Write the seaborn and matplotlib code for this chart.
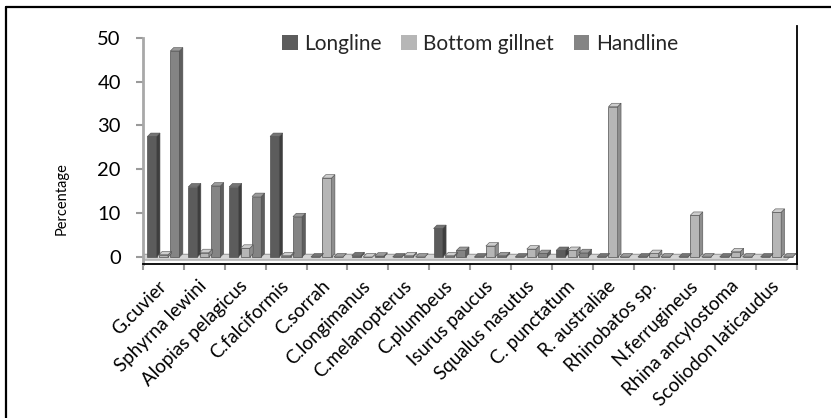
import matplotlib
matplotlib.use("Agg")
import matplotlib.pyplot as plt
from matplotlib.patches import Polygon, Patch
from matplotlib.lines import Line2D
import seaborn as sns
import pandas as pd

species = ["G.cuvier", "Sphyrna lewini", "Alopias pelagicus", "C.falciformis",
           "C.sorrah", "C.longimanus", "C.melanopterus", "C.plumbeus",
           "Isurus paucus", "Squalus nasutus", "C. punctatum", "R. australiae",
           "Rhinobatos sp.", "N.ferrugineus", "Rhina ancylostoma",
           "Scoliodon laticaudus"]
gears = ["Longline", "Bottom gillnet", "Handline"]
longline = [27.5, 16.0, 16.0, 27.5, 0.0, 0.3, 0.0, 6.5, 0.0, 0.0, 1.5, 0.0, 0.0, 0.0, 0.0, 0.0]
bottom_gillnet = [0.5, 1.0, 2.0, 0.3, 18.0, 0.0, 0.3, 0.3, 2.5, 1.8, 1.5, 34.3, 0.8, 9.5, 1.2, 10.2]
handline = [47.0, 16.2, 13.8, 9.2, 0.0, 0.2, 0.0, 1.5, 0.3, 0.8, 1.0, 0.0, 0.0, 0.0, 0.0, 0.0]
yticks = [0, 10, 20, 30, 40, 50]

df = pd.DataFrame({
    "species": species * 3,
    "gear": [g for g in gears for _ in species],
    "pct": longline + bottom_gillnet + handline,
})

front = {"Longline": "#5c5c5c", "Bottom gillnet": "#b6b6b6", "Handline": "#848484"}
side = {"Longline": "#3e3e3e", "Bottom gillnet": "#8e8e8e", "Handline": "#5e5e5e"}
top = {"Longline": "#747474", "Bottom gillnet": "#cdcdcd", "Handline": "#9a9a9a"}

sns.set_theme(style="white")
plt.rcParams["font.family"] = ["Lato", "DejaVu Sans"]

W, H = 831, 418
fig = plt.figure(figsize=(W / 100, H / 100), dpi=100)
ax = fig.add_axes([143 / W, (H - 264) / H, (797 - 143) / W, (264 - 26) / H])

sns.barplot(data=df, x="species", y="pct", hue="gear", order=species,
            hue_order=gears, palette=front, width=0.84, gap=0.2,
            edgecolor="#505050", linewidth=0.5, legend=False, ax=ax, zorder=3)

ax.set_xlim(-0.5, 15.5)
ax.set_ylim(-1.6, 52.7)

# depth offset of the pseudo-3D columns, in data units
dx = 3.4 / ((797 - 143) / 16)
dy = 3.4 / ((257 - 38) / 50)

# floor slab at zero
floor = Polygon([(-0.62, -0.7), (15.25, -0.7), (15.25 + dx + 0.05, 0.3 + dy * 0.4),
                 (-0.5, 0.3 + dy * 0.4)], closed=True, facecolor="#d4d4d4",
                edgecolor="#9c9c9c", linewidth=0.8, zorder=2)
ax.add_patch(floor)

for gear, container in zip(gears, ax.containers):
    for bar in container:
        x, y = bar.get_x(), bar.get_y()
        w, h = bar.get_width(), bar.get_height()
        ax.add_patch(Polygon([(x + w, y), (x + w + dx, y + dy), (x + w + dx, y + h + dy),
                              (x + w, y + h)], closed=True, facecolor=side[gear],
                             edgecolor="#505050", linewidth=0.4, zorder=3))
        ax.add_patch(Polygon([(x, y + h), (x + w, y + h), (x + w + dx, y + h + dy),
                              (x + dx, y + h + dy)], closed=True, facecolor=top[gear],
                             edgecolor="#505050", linewidth=0.4, zorder=3))

# axes frame
ax.spines["top"].set_visible(False)
ax.spines["right"].set_color("black")
ax.spines["right"].set_linewidth(1.3)
ax.spines["bottom"].set_color("black")
ax.spines["bottom"].set_linewidth(1.3)
ax.spines["left"].set_color("#a8a8a8")
ax.spines["left"].set_linewidth(2.0)
ax.spines["left"].set_bounds(-1.6, 50)

ax.set_yticks(yticks)
ax.set_yticklabels([str(v) for v in yticks], fontsize=14.5, color="black")
ax.tick_params(axis="y", direction="out", length=5, width=1.5, color="#9a9a9a",
               pad=11, left=True)

ax.set_xticks(range(len(species)))
ax.set_xticklabels(species, rotation=45, ha="right", va="center",
                   rotation_mode="anchor", fontsize=13.5, color="black")
ax.tick_params(axis="x", which="major", length=0, pad=14)
ax.set_xticks([i - 0.5 for i in range(len(species) + 1)], minor=True)
ax.tick_params(axis="x", which="minor", direction="out", length=4, width=1.5,
               color="#9a9a9a", bottom=True)

ax.set_xlabel("")
ax.set_ylabel("")
fig.text(62 / W, 1 - 199 / H, "Percentage", rotation=90, ha="center", va="center",
         fontsize=10.5, color="black")

handles = [Patch(facecolor=front[g], edgecolor="none") for g in gears]
fig.legend(handles, gears, loc="center", bbox_to_anchor=(480 / W, 1 - 44 / H),
           ncol=3, frameon=False, fontsize=15, handlelength=0.75, handleheight=0.75,
           handletextpad=0.3, columnspacing=0.95)

# outer frame
fig.add_artist(Line2D([6 / W, 6 / W], [0, 1 - 7 / H], transform=fig.transFigure,
                      color="black", linewidth=1.6))
fig.add_artist(Line2D([6 / W, 1], [1 - 7 / H, 1 - 7 / H], transform=fig.transFigure,
                      color="black", linewidth=1.6))

fig.savefig("out.png", dpi=100, facecolor="white")
